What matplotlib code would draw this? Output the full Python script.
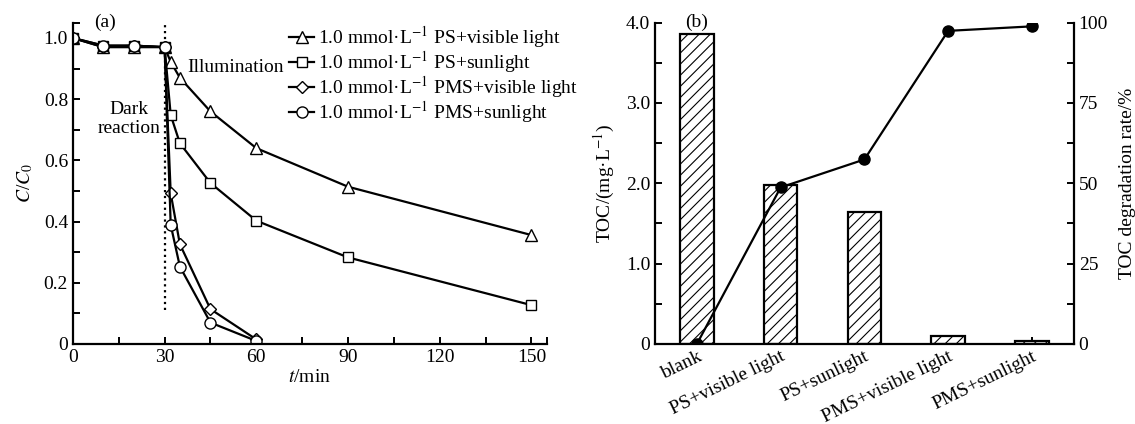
import matplotlib
matplotlib.use("Agg")
import matplotlib.pyplot as plt
import matplotlib.ticker as tck

plt.rcParams['font.family'] = ['Liberation Serif', 'DejaVu Serif']
plt.rcParams['mathtext.fontset'] = 'stix'
plt.rcParams['font.size'] = 14
plt.rcParams['hatch.linewidth'] = 0.8

# (a) C/C0 vs time
t = [0, 10, 20, 30, 32, 35, 45, 60, 90, 150]
t_pms = [0, 10, 20, 30, 32, 35, 45, 60]
ps_visible = [1.0, 0.97, 0.97, 0.97, 0.922, 0.87, 0.76, 0.64, 0.514, 0.356]
ps_sun = [1.0, 0.975, 0.975, 0.97, 0.748, 0.656, 0.526, 0.403, 0.283, 0.127]
pms_visible = [1.0, 0.97, 0.975, 0.97, 0.492, 0.326, 0.114, 0.015]
pms_sun = [1.0, 0.975, 0.975, 0.97, 0.389, 0.253, 0.07, 0.01]
series_labels = [r'1.0 mmol·L$^{-1}$ PS+visible light',
                 r'1.0 mmol·L$^{-1}$ PS+sunlight',
                 r'1.0 mmol·L$^{-1}$ PMS+visible light',
                 r'1.0 mmol·L$^{-1}$ PMS+sunlight']

# (b) TOC
groups = ['blank', 'PS+visible light', 'PS+sunlight',
          'PMS+visible light', 'PMS+sunlight']
toc = [3.86, 1.98, 1.64, 0.10, 0.04]
toc_rate = [0, 48.7, 57.4, 97.4, 98.8]

W, H = 1135, 424
fig = plt.figure(figsize=(W / 100, H / 100), dpi=100)
ax1 = fig.add_axes([72.9 / W, 1 - 344 / H, 473.8 / W, 321.3 / H])
ax2 = fig.add_axes([655 / W, 1 - 344 / H, 418.8 / W, 321.5 / H])

lw = 1.6
mk = dict(markerfacecolor='white', markeredgecolor='black',
          markeredgewidth=1.0, markersize=8)
ax1.plot(t, ps_visible, '-^', color='black', lw=lw, label=series_labels[0], **mk)
ax1.plot(t, ps_sun, '-s', color='black', lw=lw, label=series_labels[1],
         **{**mk, 'markersize': 7})
ax1.plot(t_pms, pms_visible, '-D', color='black', lw=lw, label=series_labels[2],
         **{**mk, 'markersize': 6.5})
ax1.plot(t_pms, pms_sun, '-o', color='black', lw=lw, label=series_labels[3], **mk)

ax1.plot([30, 30], [0.11, 1.05], ':', color='black', lw=1.6, zorder=1)
ax1.text(18.3, 0.735, 'Dark\nreaction', ha='center', va='center',
         linespacing=1.2)
ax1.text(37.5, 0.905, 'Illumination', ha='left', va='center')
ax1.text(10.4, 1.05, '(a)', ha='center', va='center')

ax1.set_xlim(0, 155)
ax1.set_ylim(0, 1.05)
ax1.xaxis.set_major_locator(tck.FixedLocator([0, 30, 60, 90, 120, 150]))
ax1.xaxis.set_minor_locator(tck.FixedLocator([15, 45, 75, 105, 135, 155]))
ax1.yaxis.set_major_locator(tck.FixedLocator([0, 0.2, 0.4, 0.6, 0.8, 1.0]))
ax1.yaxis.set_major_formatter(tck.FixedFormatter(['0', '0.2', '0.4', '0.6', '0.8', '1.0']))
ax1.yaxis.set_minor_locator(tck.FixedLocator([0.1, 0.3, 0.5, 0.7, 0.9, 1.05]))
ax1.set_xlabel('$t$/min', labelpad=2)
ax1.set_ylabel('$C$/$C_0$', labelpad=6)

leg = ax1.legend(loc='upper left', bbox_to_anchor=(289 / W, 1 - 24 / H),
                 bbox_transform=fig.transFigure, frameon=False,
                 borderpad=0, borderaxespad=0, handlelength=1.3,
                 handletextpad=0.2, labelspacing=-0.05)

# (b)
x = range(len(groups))
ax2.bar(x, toc, width=0.4, color='white', edgecolor='black',
        linewidth=1.6, hatch='///', zorder=2)
ax2.set_xlim(-0.5, 4.5)
ax2.set_ylim(0, 4.0)
ax2.set_xticks(list(x))
ax2.set_xticklabels(groups, rotation=26, ha='right', va='top',
                    rotation_mode='anchor')
ax2.tick_params(axis='x', length=0, pad=3)
ax2.yaxis.set_major_locator(tck.FixedLocator([0, 1, 2, 3, 4]))
ax2.yaxis.set_major_formatter(tck.FixedFormatter(['0', '1.0', '2.0', '3.0', '4.0']))
ax2.yaxis.set_minor_locator(tck.FixedLocator([0.5, 1.5, 2.5, 3.5]))
ax2.set_ylabel('TOC/(mg·L$^{-1}$)', labelpad=6)
ax2.text(0, 4.0, '(b)', ha='center', va='center')

ax3 = ax2.twinx()
ax3.plot(list(x), toc_rate, '-o', color='black', lw=lw, markersize=8, zorder=3)
ax3.set_ylim(0, 100)
ax3.yaxis.set_major_locator(tck.FixedLocator([0, 25, 50, 75, 100]))
ax3.yaxis.set_minor_locator(tck.FixedLocator([12.5, 37.5, 62.5, 87.5]))
ax3.set_ylabel('TOC degradation rate/%', labelpad=8)

for ax in (ax1, ax2, ax3):
    ax.spines['top'].set_visible(False)
    for s in ax.spines.values():
        s.set_linewidth(1.6)
    ax.tick_params(which='both', direction='in', length=5, width=1.4)
ax1.spines['right'].set_visible(False)
ax2.spines['right'].set_visible(False)
ax3.spines['left'].set_visible(False)
ax3.spines['bottom'].set_visible(False)

fig.savefig('out.png', dpi=100)
